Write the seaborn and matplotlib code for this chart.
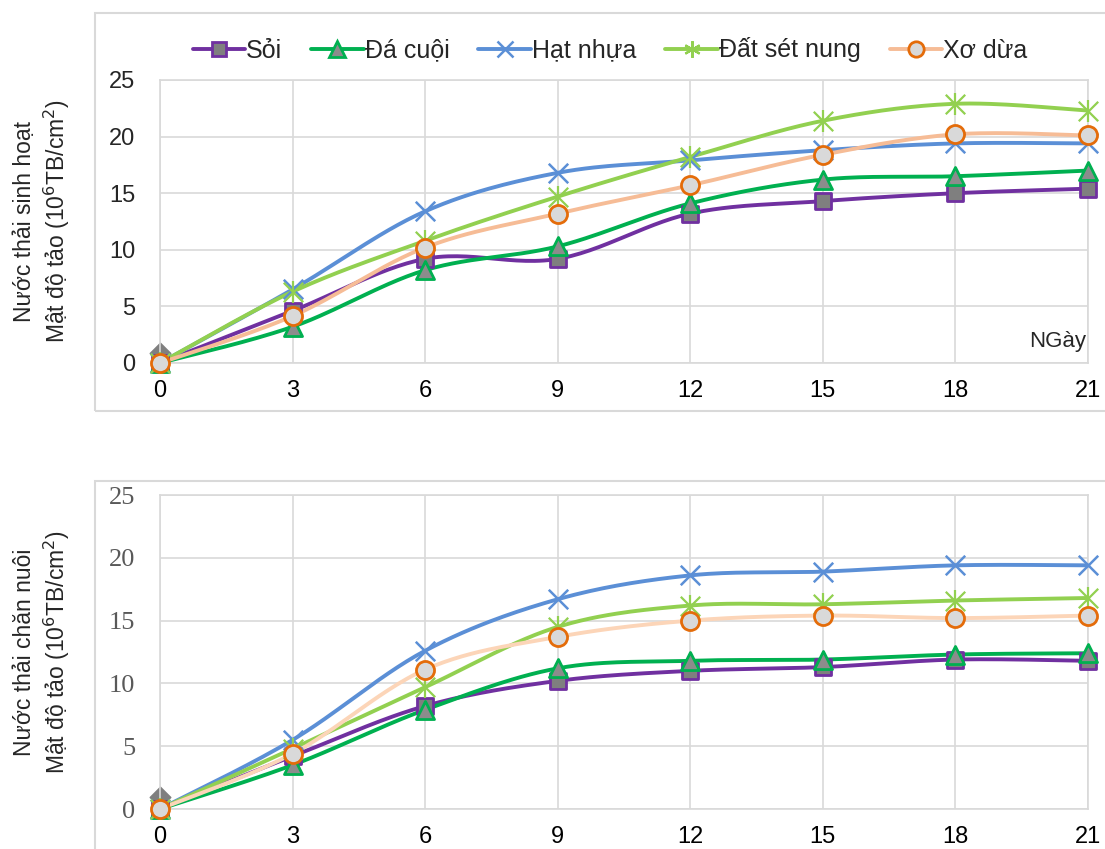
import numpy as np
import pandas as pd
import matplotlib.pyplot as plt
import seaborn as sns
from matplotlib.lines import Line2D
from matplotlib.patches import Rectangle


# ================== DATA ==================
days = [0, 3, 6, 9, 12, 15, 18, 21]
series_names = ["Sỏi", "Đá cuội", "Hạt nhựa", "Đất sét nung", "Xơ dừa"]

# Nước thải sinh hoạt
sh_soi = [0, 4.6, 9.2, 9.2, 13.2, 14.3, 15.0, 15.4]
sh_da_cuoi = [0, 3.2, 8.2, 10.3, 14.1, 16.2, 16.5, 17.0]
sh_hat_nhua = [0, 6.5, 13.4, 16.8, 17.9, 18.8, 19.4, 19.4]
sh_dat_set = [0, 6.3, 10.8, 14.7, 18.2, 21.4, 22.9, 22.3]
sh_xo_dua = [0, 4.15, 10.2, 13.2, 15.7, 18.4, 20.2, 20.1]

# Nước thải chăn nuôi
cn_soi = [0, 4.2, 8.2, 10.2, 11.0, 11.3, 11.9, 11.8]
cn_da_cuoi = [0, 3.5, 7.9, 11.2, 11.8, 11.9, 12.3, 12.4]
cn_hat_nhua = [0, 5.5, 12.6, 16.7, 18.6, 18.9, 19.4, 19.4]
cn_dat_set = [0, 4.8, 9.7, 14.5, 16.2, 16.3, 16.6, 16.8]
cn_xo_dua = [0, 4.4, 11.1, 13.7, 15.0, 15.4, 15.2, 15.4]

# stray gray marker sitting at day 0 in both panels
extra_y0 = [0.9, 0.95]

y_ticks = [0, 5, 10, 15, 20, 25]


# ================== HELPERS ==================

def excel_smooth(x, y, n=30):
    # bezier smoothing like the spreadsheet "smoothed line" option
    x = np.asarray(x, float)
    y = np.asarray(y, float)
    px = np.concatenate([[x[0]], x, [x[-1]]])
    py = np.concatenate([[y[0]], y, [y[-1]]])
    out_x, out_y = [], []
    t = np.linspace(0, 1, n)
    for i in range(1, len(px) - 2):
        p0 = np.array([px[i], py[i]])
        p3 = np.array([px[i + 1], py[i + 1]])
        c1 = p0 + (p3 - np.array([px[i - 1], py[i - 1]])) / 6
        c2 = p3 - (np.array([px[i + 2], py[i + 2]]) - p0) / 6
        b = ((1 - t) ** 3)[:, None] * p0 + (3 * (1 - t) ** 2 * t)[:, None] * c1 \
            + (3 * (1 - t) * t ** 2)[:, None] * c2 + (t ** 3)[:, None] * p3
        out_x.extend(b[:, 0])
        out_y.extend(b[:, 1])
    return np.array(out_x), np.array(out_y)


styles = {
    "Sỏi": dict(line="#7030A0", marker="s", face="#7F7F7F", edge="#7030A0", ms=12, mew=2),
    "Đá cuội": dict(line="#00B050", marker="^", face="#8C8C8C", edge="#00B050", ms=13, mew=2),
    "Hạt nhựa": dict(line="#5B8FD6", marker="x", face="#5B8FD6", edge="#5B8FD6", ms=14, mew=1.8),
    "Đất sét nung": dict(line="#92D050", marker="asterisk", face="#92D050", edge="#92D050", ms=14, mew=1.6),
    "Xơ dừa": dict(line="#F6BC96", marker="o", face="#D9D9D9", edge="#E46C0A", ms=13, mew=2),
}

LW = 2.8


def draw_panel(ax, data, extra, line_colors=None):
    ax.scatter([0], [extra], marker="D", s=110, color="#7F7F7F", zorder=2, clip_on=False)
    for name, vals in zip(series_names, data):
        st = styles[name]
        lc = st["line"] if line_colors is None else line_colors.get(name, st["line"])
        sx, sy = excel_smooth(days, vals)
        sns.lineplot(x=sx, y=sy, sort=False, color=lc, linewidth=LW, ax=ax, zorder=3)
        df = pd.DataFrame({"day": days, "val": vals})
        if st["marker"] == "asterisk":
            for m, sz in (("x", st["ms"]), ("|", st["ms"] * 1.15)):
                sns.scatterplot(data=df, x="day", y="val", marker=m, s=sz ** 2,
                                color=st["face"], linewidth=st["mew"], ax=ax, zorder=4, clip_on=False)
        elif st["marker"] == "x":
            sns.scatterplot(data=df, x="day", y="val", marker="x", s=st["ms"] ** 2,
                            color=st["face"], linewidth=st["mew"], ax=ax, zorder=4, clip_on=False)
        else:
            sns.scatterplot(data=df, x="day", y="val", marker=st["marker"], s=st["ms"] ** 2,
                            color=st["face"], edgecolor=st["edge"], linewidth=st["mew"],
                            ax=ax, zorder=4, clip_on=False)
    ax.set_xlim(0, 21)
    ax.set_ylim(0, 25)
    ax.set_xticks(days)
    ax.set_yticks(y_ticks)
    ax.grid(True, color="#D9D9D9", linewidth=1.2)
    for sp in ax.spines.values():
        sp.set_color("#D9D9D9")
        sp.set_linewidth(1.2)
    ax.tick_params(axis="x", length=0, pad=12)
    ax.tick_params(axis="y", length=0, pad=18)
    ax.set_xlabel("")


# ================== FIGURE ==================
sns.set_style("white")
plt.rcParams['font.family'] = ['Liberation Sans', 'DejaVu Sans']

fig = plt.figure(figsize=(11.05, 8.49), dpi=100)

# chart frames
fig.patches.append(Rectangle((95 / 1105, 1 - 411 / 849), 1.0, 398 / 849, transform=fig.transFigure,
                             fill=False, edgecolor="#D9D9D9", linewidth=1.5))
fig.patches.append(Rectangle((95 / 1105, -0.1), 1.0, 0.1 + 1 - 481 / 849, transform=fig.transFigure,
                             fill=False, edgecolor="#D9D9D9", linewidth=1.5))

ax1 = fig.add_axes([160 / 1105, 1 - 363 / 849, 928 / 1105, 283 / 849])
ax2 = fig.add_axes([160 / 1105, 1 - 809 / 849, 928 / 1105, 314 / 849])

draw_panel(ax1, [sh_soi, sh_da_cuoi, sh_hat_nhua, sh_dat_set, sh_xo_dua], extra_y0[0])
draw_panel(ax2, [cn_soi, cn_da_cuoi, cn_hat_nhua, cn_dat_set, cn_xo_dua], extra_y0[1],
           line_colors={"Xơ dừa": "#FCD5B8"})

for ax in (ax1, ax2):
    for lab in ax.get_xticklabels():
        lab.set_fontsize(17)
        lab.set_color("#000000")

for lab in ax1.get_yticklabels():
    lab.set_fontsize(17)
for lab in ax2.get_yticklabels():
    lab.set_fontsize(19)
    lab.set_family("Liberation Serif")
    lab.set_color("#595959")

ax1.set_ylabel("Nước thải sinh hoạt\nMật độ tảo (10$^{6}$TB/cm$^{2}$)", fontsize=16.5, linespacing=1.25)
ax2.set_ylabel("Nước thải chăn nuôi\nMật độ tảo (10$^{6}$TB/cm$^{2}$)", fontsize=16.5, linespacing=1.25)
ax1.yaxis.set_label_coords(-0.095, 0.5)
ax2.yaxis.set_label_coords(-0.095, 0.5)

ax1.text(0.998, 0.075, "NGày", transform=ax1.transAxes, ha="right", va="center", fontsize=16)

handles = []
for name in series_names:
    st = styles[name]
    if st["marker"] == "asterisk":
        h = Line2D([], [], color=st["line"], linewidth=LW, marker=(6, 2, 0), markersize=st["ms"] * 0.85,
                   markeredgecolor=st["face"], markeredgewidth=st["mew"])
    elif st["marker"] == "x":
        h = Line2D([], [], color=st["line"], linewidth=LW, marker="x", markersize=st["ms"] * 0.85,
                   markeredgecolor=st["face"], markeredgewidth=st["mew"])
    else:
        h = Line2D([], [], color=st["line"], linewidth=LW, marker=st["marker"], markersize=st["ms"] * 0.85,
                   markerfacecolor=st["face"], markeredgecolor=st["edge"], markeredgewidth=st["mew"])
    handles.append(h)

fig.legend(handles, series_names, loc="center", bbox_to_anchor=(610 / 1105, 1 - 50 / 849), ncol=5,
           frameon=False, fontsize=18, handlelength=2.1, handletextpad=0.05, columnspacing=1.15)

plt.savefig("out.png", dpi=100)
